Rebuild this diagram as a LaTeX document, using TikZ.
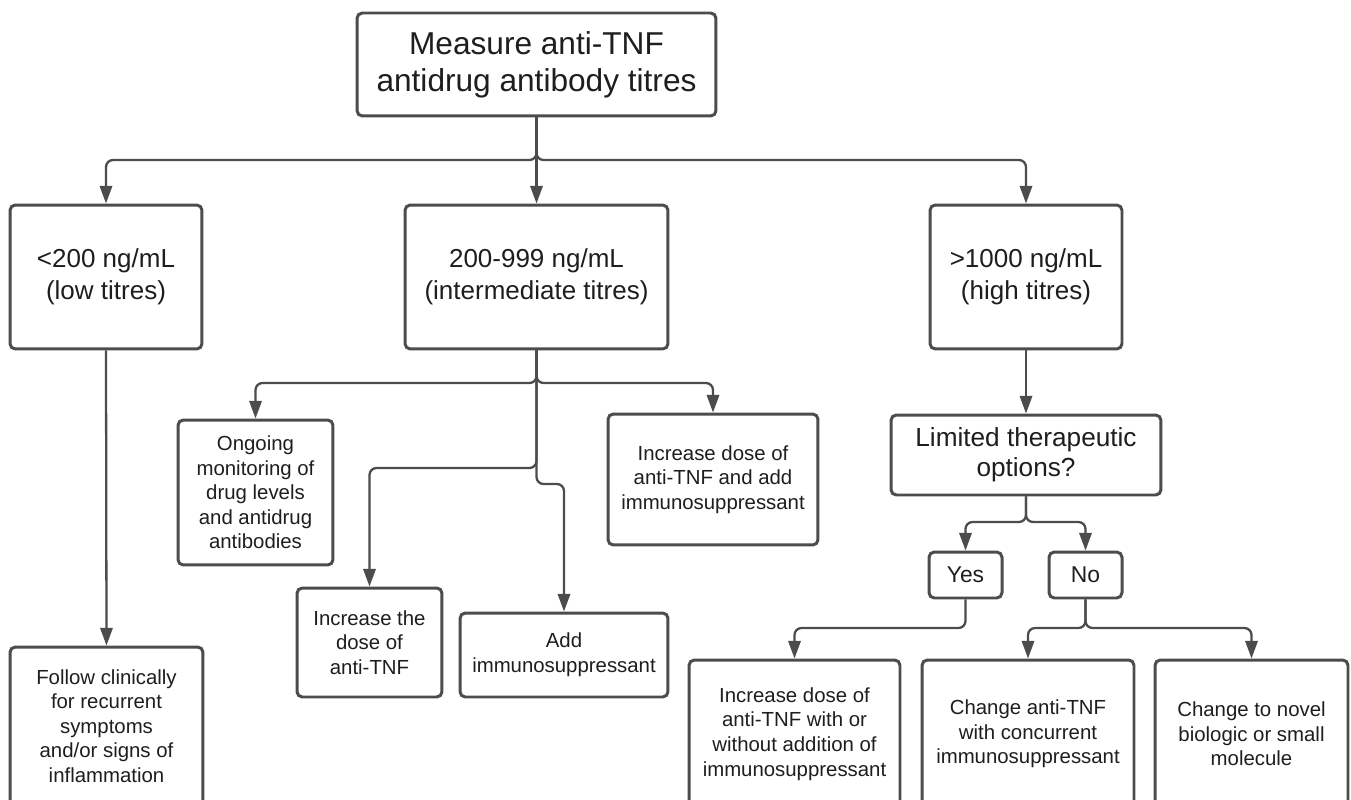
\documentclass[tikz,border=0pt]{standalone}
\usepackage{fontspec}
\setmainfont{Liberation Sans}
\usetikzlibrary{arrows.meta}
\definecolor{linegray}{HTML}{4C4C4C}
\definecolor{txt}{HTML}{1E1E1E}

\begin{document}
\begin{tikzpicture}[x=0.02cm,y=-0.02cm,
  box/.style={draw=linegray,line width=1.7pt,rounded corners=3pt,fill=white,
    text=txt,align=center,inner sep=2pt},
  big/.style={font=\fontsize{18}{21}\selectfont},
  mido/.style={font=\fontsize{14.8}{18}\selectfont},
  small/.style={font=\fontsize{11.6}{14}\selectfont},
  arr/.style={draw=linegray,line width=1.3pt,rounded corners=4pt,
    -{Triangle[length=10pt,width=7pt]}}]
  \useasboundingbox (0,0) rectangle (1351,800);
  \clip (0,0) rectangle (1351,800);

  \node[box,big,minimum width=7.18cm,minimum height=2.06cm]  (top)  at (536.5,64.5) {Measure anti-TNF\\antidrug antibody titres};
  \node[box,mido,minimum width=3.84cm,minimum height=2.88cm] (low)  at (106,277)    {<200 ng/mL\\(low titres)};
  \node[box,mido,minimum width=5.26cm,minimum height=2.88cm] (mid)  at (536.5,277)  {200-999 ng/mL\\(intermediate titres)};
  \node[box,mido,minimum width=3.84cm,minimum height=2.88cm] (high) at (1026,277)   {>1000 ng/mL\\(high titres)};

  \node[box,small,minimum width=3.1cm,minimum height=2.9cm]   (ongoing) at (255.5,492.5) {Ongoing\\monitoring of\\drug levels\\and antidrug\\antibodies};
  \node[box,small,minimum width=4.2cm,minimum height=2.62cm]  (incadd)  at (713,479.5)   {Increase dose of\\anti-TNF and add\\immunosuppressant};
  \node[box,small,minimum width=2.9cm,minimum height=2.18cm]  (incthe)  at (369.5,642.5) {Increase the\\dose of\\anti-TNF};
  \node[box,small,minimum width=4.16cm,minimum height=1.68cm] (addimm)  at (564,655)     {Add\\immunosuppressant};
  \node[box,small,minimum width=3.86cm,minimum height=3.16cm] (follow)  at (106.5,726)   {Follow clinically\\for recurrent\\symptoms\\and/or signs of\\inflammation};

  \node[box,font=\fontsize{14.9}{17}\selectfont,minimum width=5.4cm,minimum height=1.6cm] (limited) at (1026,455) {Limited therapeutic\\options?};
  \node[box,font=\fontsize{13}{15}\selectfont,minimum width=1.46cm,minimum height=0.92cm] (yes) at (965.5,575)  {Yes};
  \node[box,font=\fontsize{13}{15}\selectfont,minimum width=1.46cm,minimum height=0.92cm] (no)  at (1085.5,575) {No};

  \node[box,small,minimum width=4.22cm,minimum height=2.96cm] (incwith) at (794.5,734)  {Increase dose of\\anti-TNF with or\\without addition of\\immunosuppressant};
  \node[box,small,minimum width=4.24cm,minimum height=2.96cm] (change)  at (1028,734)   {Change anti-TNF\\with concurrent\\immunosuppressant};
  \node[box,small,minimum width=3.86cm,minimum height=2.96cm] (novel)   at (1251.5,734) {Change to novel\\biologic or small\\molecule};

  \coordinate (j1) at (536.5,160);
  \coordinate (j2) at (536.5,383);
  \coordinate (j3) at (536.5,468);
  \coordinate (j4) at (536.5,484);
  \coordinate (j5) at (1026,522);
  \coordinate (j6) at (965.5,628);
  \coordinate (j7) at (1085.5,628);

  \draw[arr] (top.south) -- (j1) -| (low.north);
  \draw[arr] (top.south) -- (j1) -| (high.north);
  \draw[arr] (top.south) -- (mid.north);
  \draw[arr] (low.south) -- (follow.north);
  \draw[arr] (mid.south) -- (j2) -| (ongoing.north);
  \draw[arr] (mid.south) -- (j2) -| (incadd.north);
  \draw[arr] (mid.south) -- (j3) -| (incthe.north);
  \draw[arr] (mid.south) -- (j4) -| (addimm.north);
  \draw[arr] (high.south) -- (limited.north);
  \draw[arr] (limited.south) -- (j5) -| (yes.north);
  \draw[arr] (limited.south) -- (j5) -| (no.north);
  \draw[arr] (yes.south) -- (j6) -| (incwith.north);
  \draw[arr] (no.south) -- (j7) -| (change.north);
  \draw[arr] (no.south) -- (j7) -| (novel.north);
\end{tikzpicture}
\end{document}
